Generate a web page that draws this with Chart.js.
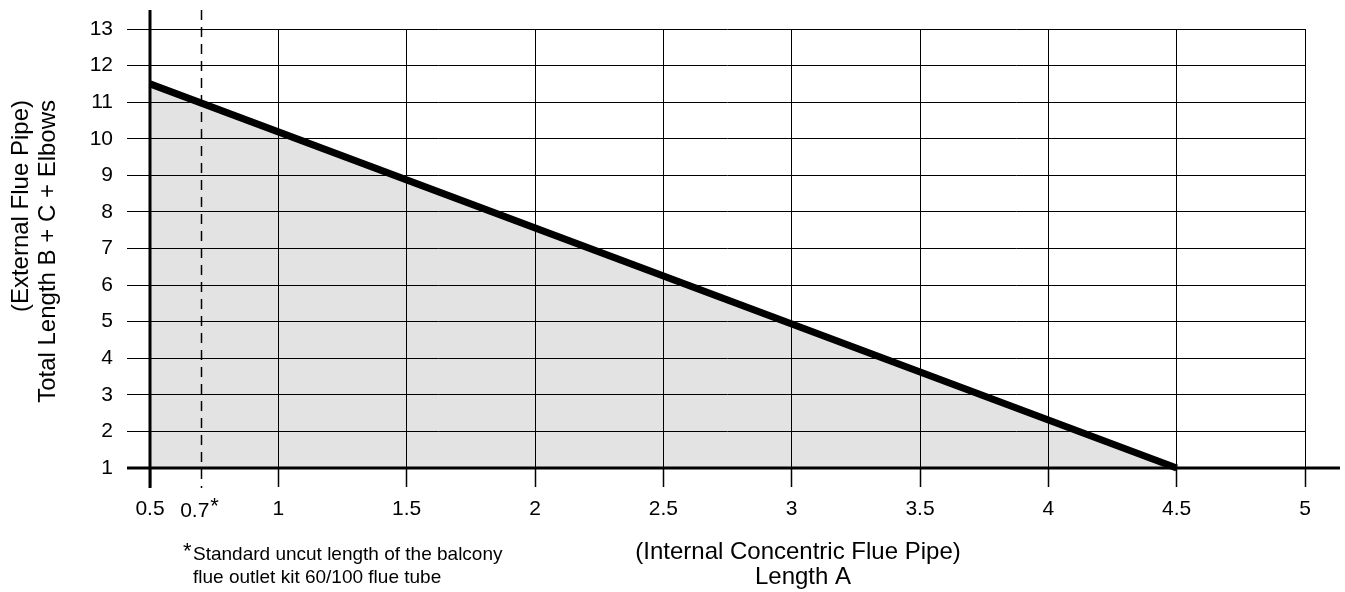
<!DOCTYPE html>
<html><head><meta charset="utf-8">
<script src="https://cdn.jsdelivr.net/npm/chart.js@4/dist/chart.umd.min.js"></script>
<style>html,body{margin:0;padding:0;background:#fff}#wrap{width:1345px;height:592px}</style>
</head><body><div id="wrap"><canvas id="c" width="1345" height="592"></canvas></div>
<script>
// ---- data ----
const lengthA = [0.5, 4.5];          // Length A (internal concentric flue pipe)
const totalBC = [11.5, 1];           // Total length B + C + elbows
const xTickValues = [0.5, 0.7, 1, 1.5, 2, 2.5, 3, 3.5, 4, 4.5, 5];
const yTickValues = [1, 2, 3, 4, 5, 6, 7, 8, 9, 10, 11, 12, 13];
const markerX = 0.7;                 // standard uncut length (dashed)
const markerLabel = '0.7';
const xTitle = ['(Internal Concentric Flue Pipe)', 'Length A'];
const yTitle = ['(External Flue Pipe)', 'Total Length B + C + Elbows'];
const footnote = ['Standard uncut length of the balcony', 'flue outlet kit 60/100 flue tube'];

const FONT = 'Liberation Sans, Arial, Helvetica, sans-serif';

const extras = {
  id: 'extras',
  beforeDatasetsDraw(chart) {
    const ctx = chart.ctx, xs = chart.scales.x, ys = chart.scales.y, a = chart.chartArea;
    ctx.save();
    const mx = Math.round(xs.getPixelForValue(markerX)) + 0.5;
    ctx.strokeStyle = '#000'; ctx.lineWidth = 1.5; ctx.setLineDash([10, 7]);
    ctx.beginPath(); ctx.moveTo(mx, 10); ctx.lineTo(mx, a.bottom + 20); ctx.stroke();
    ctx.setLineDash([]);
    ctx.lineWidth = 3;
    const x0 = xs.getPixelForValue(lengthA[0]);
    ctx.beginPath(); ctx.moveTo(x0, 10); ctx.lineTo(x0, a.bottom + 20); ctx.stroke();
    const y0 = ys.getPixelForValue(yTickValues[0]);
    ctx.beginPath(); ctx.moveTo(a.left - 23, y0); ctx.lineTo(1340, y0); ctx.stroke();
    ctx.restore();
  },
  afterDraw(chart) {
    const ctx = chart.ctx, xs = chart.scales.x;
    ctx.save();
    ctx.fillStyle = '#000';
    // 0.7* tick label
    const mx = xs.getPixelForValue(markerX);
    ctx.font = '21px ' + FONT; ctx.textBaseline = 'alphabetic'; ctx.textAlign = 'right';
    ctx.fillText(markerLabel, mx + 8, 517);
    ctx.textAlign = 'left'; ctx.font = '22px ' + FONT;
    ctx.fillText('*', mx + 9, 513);
    // x title
    ctx.font = '24px ' + FONT; ctx.textAlign = 'center'; ctx.textBaseline = 'middle';
    ctx.fillText(xTitle[0], 798, 552);
    ctx.fillText(xTitle[1], 803, 577);
    // footnote
    ctx.textAlign = 'left'; ctx.textBaseline = 'alphabetic';
    ctx.font = '22px ' + FONT;
    ctx.fillText('*', 183, 558);
    ctx.font = '19px ' + FONT;
    ctx.fillText(footnote[0], 193, 560);
    ctx.fillText(footnote[1], 193, 583);
    // y title
    ctx.font = '24px ' + FONT; ctx.textBaseline = 'middle'; ctx.textAlign = 'right';
    [[21, yTitle[0]], [48, yTitle[1]]].forEach(([x, t]) => {
      ctx.save(); ctx.translate(x, 100); ctx.rotate(-Math.PI / 2);
      ctx.fillText(t, 0, 0); ctx.restore();
    });
    ctx.restore();
  }
};

new Chart(document.getElementById('c'), {
  type: 'line',
  data: {
    datasets: [{
      data: lengthA.map((x, i) => ({ x, y: totalBC[i] })),
      borderColor: '#000',
      borderWidth: 7,
      backgroundColor: 'rgba(0,0,0,0.11)',
      fill: 'start',
      pointRadius: 0,
      tension: 0,
      clip: false
    }]
  },
  options: {
    responsive: false,
    animation: false,
    devicePixelRatio: 1,
    layout: { padding: { left: 0, top: 29, right: 40, bottom: 0 } },
    plugins: { legend: { display: false }, tooltip: { enabled: false } },
    scales: {
      x: {
        type: 'linear', min: 0.5, max: 5,
        afterBuildTicks: s => { s.ticks = xTickValues.map(v => ({ value: v })); },
        afterFit: s => { s.height = 124; },
        grid: {
          color: c => (c.tick && c.tick.value === markerX) ? 'rgba(0,0,0,0)' : '#000',
          lineWidth: 1, tickLength: 19, tickWidth: 1.5,
          tickColor: c => (c.tick && c.tick.value === markerX) ? 'rgba(0,0,0,0)' : '#000'
        },
        border: { display: false },
        ticks: {
          autoSkip: false, maxRotation: 0, color: '#000', padding: 10,
          font: { family: FONT, size: 21 },
          callback: v => v === markerX ? '' : String(v)
        }
      },
      y: {
        type: 'linear', min: 1, max: 13,
        afterBuildTicks: s => { s.ticks = yTickValues.map(v => ({ value: v })); },
        afterFit: s => { s.width = 150; },
        grid: { color: '#000', lineWidth: 1, tickLength: 23, tickColor: '#000' },
        border: { display: false },
        ticks: {
          autoSkip: false, color: '#000', padding: 14,
          font: { family: FONT, size: 21 }
        }
      }
    }
  },
  plugins: [extras]
});
</script></body></html>
